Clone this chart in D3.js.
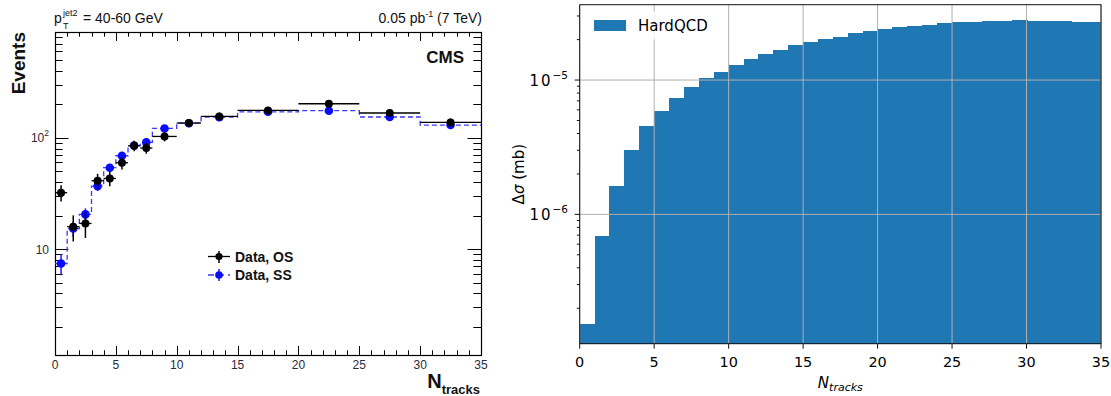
<!DOCTYPE html>
<html><head><meta charset="utf-8">
<script src="https://cdn.jsdelivr.net/npm/d3@7"></script>
<style>body{margin:0;background:#fff}svg{display:block}</style>
</head><body>
<svg id="c" width="1111" height="396"></svg>
<script>
// ---- CMS panel: track-multiplicity bins, event counts and statistical errors ----
const binEdges = [0, 1, 2, 3, 4, 5, 6, 7, 8, 10, 12, 15, 20, 25, 30, 35];
const eventsOS = [32.1, 15.9, 17.0, 41.1, 43.1, 59.6, 84.7, 80.8, 102.7, 135.5, 155.4, 175.8, 202, 166.7, 137.3];
const errorsOS = [5.4, 4.2, 4.4, 6.3, 6.5, 7.7, 9.2, 9.0, 10.0, 11.6, 12.5, 13.3, 14.2, 12.9, 11.7];
const eventsSS = [7.43, 15.3, 20.5, 36.8, 53.8, 68.9, 85, 90.8, 121.2, 135, 153, 171, 174.8, 153.5, 130];
const errorsSS = [1.6, 2.4, 2.7, 3.6, 4.4, 5.0, 5.5, 5.7, 6.6, 7.0, 7.4, 7.8, 7.9, 7.4, 6.8];
const cmsXTickLabels = [0, 5, 10, 15, 20, 25, 30, 35];
const cmsYTickLabels = [10, 100];

// ---- HardQCD panel: unit-width N_tracks bins and cross sections (mb) ----
const trackEdges = [0,1,2,3,4,5,6,7,8,9,10,11,12,13,14,15,16,17,18,19,20,21,22,23,24,25,26,27,28,29,30,31,32,33,34,35];
const deltaSigma = [1.52e-7, 6.89e-7, 1.63e-6, 3.01e-6, 4.55e-6, 5.88e-6, 7.35e-6, 8.87e-6, 1.035e-5, 1.153e-5,
  1.294e-5, 1.433e-5, 1.57e-5, 1.67e-5, 1.82e-5, 1.92e-5, 2.02e-5, 2.09e-5, 2.24e-5, 2.32e-5,
  2.40e-5, 2.48e-5, 2.52e-5, 2.57e-5, 2.66e-5, 2.70e-5, 2.70e-5, 2.75e-5, 2.75e-5, 2.80e-5,
  2.75e-5, 2.75e-5, 2.75e-5, 2.70e-5, 2.70e-5];
const qcdXTickLabels = [0, 5, 10, 15, 20, 25, 30, 35];
const qcdYTickLabels = [1e-6, 1e-5];

const svg = d3.select("#c");
const ROOT_FONT = "'Liberation Sans', Arial, Helvetica, sans-serif";
const MPL_FONT = "'DejaVu Sans', sans-serif";

// =================== left: CMS style ===================
(function () {
  const x0 = 55, x1 = 481, y0 = 32, y1 = 355;
  const x = d3.scaleLinear().domain([0, 35]).range([x0, x1]);
  const y = d3.scaleLog().domain([1.12, 890]).range([y1, y0]);
  const g = svg.append("g");

  // ticks (inside, on all four sides)
  const tk = g.append("g").attr("stroke", "#000").attr("stroke-width", 1);
  for (let v = 0; v <= 35; v++) {
    const major = v % 5 === 0;
    const len = major ? 9 : 4.7;
    const xx = Math.round(x(v)) + 0.5;
    tk.append("line").attr("x1", xx).attr("x2", xx).attr("y1", y1).attr("y2", y1 - len);
    tk.append("line").attr("x1", xx).attr("x2", xx).attr("y1", y0).attr("y2", y0 + len);
  }
  const [lo, hi] = y.domain();
  for (let dec = 1; dec <= 100; dec *= 10) {
    for (let m = 1; m <= 9; m++) {
      const v = m * dec;
      if (v < lo || v > hi) continue;
      const len = m === 1 ? 13.5 : 7.7;
      const yy = Math.round(y(v)) + 0.5;
      tk.append("line").attr("x1", x0).attr("x2", x0 + len).attr("y1", yy).attr("y2", yy);
      tk.append("line").attr("x1", x1).attr("x2", x1 - len).attr("y1", yy).attr("y2", yy);
    }
  }

  g.append("rect").attr("x", x0 + 0.5).attr("y", y0 + 0.5)
    .attr("width", x1 - x0).attr("height", y1 - y0)
    .attr("fill", "none").attr("stroke", "#000").attr("stroke-width", 1.2);

  // tick labels
  g.append("g").selectAll("text").data(cmsXTickLabels).join("text")
    .attr("x", d => x(d)).attr("y", 369).attr("text-anchor", "middle")
    .attr("font-family", ROOT_FONT).attr("font-size", 12).attr("fill", "#2a2a3a")
    .text(d => d);
  const yl = g.append("g").attr("font-family", ROOT_FONT).attr("fill", "#2a2a3a");
  cmsYTickLabels.forEach(v => {
    const t = yl.append("text").attr("x", 49).attr("y", y(v) + 4.5).attr("text-anchor", "end").attr("font-size", 12);
    if (v === 10) t.text("10");
    else {
      t.append("tspan").text("10");
      t.append("tspan").attr("dy", -6).attr("font-size", 8.5).text(Math.round(Math.log10(v)));
    }
  });

  // SS: dashed step histogram
  const stepPts = [];
  eventsSS.forEach((v, i) => { stepPts.push([binEdges[i], v]); stepPts.push([binEdges[i + 1], v]); });
  g.append("path").attr("d", d3.line().x(d => x(d[0])).y(d => y(d[1]))(stepPts))
    .attr("fill", "none").attr("stroke", "#3a3aff").attr("stroke-width", 1.3)
    .attr("stroke-dasharray", "5,3");

  const centers = eventsSS.map((_, i) => (binEdges[i] + binEdges[i + 1]) / 2);

  // SS error bars + markers
  g.append("g").selectAll("line").data(eventsSS).join("line")
    .attr("x1", (d, i) => x(centers[i])).attr("x2", (d, i) => x(centers[i]))
    .attr("y1", (d, i) => y(d + errorsSS[i])).attr("y2", (d, i) => y(d - errorsSS[i]))
    .attr("stroke", "#1a1aff").attr("stroke-width", 1.5);
  g.append("g").selectAll("circle").data(eventsSS).join("circle")
    .attr("cx", (d, i) => x(centers[i])).attr("cy", d => y(d)).attr("r", 4.3)
    .attr("fill", "#0a0aff");

  // OS: horizontal bin bars, vertical errors, markers
  g.append("g").selectAll("line").data(eventsOS).join("line")
    .attr("x1", (d, i) => x(binEdges[i])).attr("x2", (d, i) => x(binEdges[i + 1]))
    .attr("y1", d => y(d)).attr("y2", d => y(d))
    .attr("stroke", "#000").attr("stroke-width", 1.3);
  g.append("g").selectAll("line").data(eventsOS).join("line")
    .attr("x1", (d, i) => x(centers[i])).attr("x2", (d, i) => x(centers[i]))
    .attr("y1", (d, i) => y(d + errorsOS[i])).attr("y2", (d, i) => y(d - errorsOS[i]))
    .attr("stroke", "#000").attr("stroke-width", 1.5);
  g.append("g").selectAll("circle").data(eventsOS).join("circle")
    .attr("cx", (d, i) => x(centers[i])).attr("cy", d => y(d)).attr("r", 4)
    .attr("fill", "#000");

  // legend
  const lg = g.append("g").attr("font-family", ROOT_FONT).attr("font-weight", "bold").attr("font-size", 14);
  lg.append("line").attr("x1", 208).attr("x2", 230).attr("y1", 256.5).attr("y2", 256.5).attr("stroke", "#000").attr("stroke-width", 1.3);
  lg.append("line").attr("x1", 219).attr("x2", 219).attr("y1", 251).attr("y2", 263).attr("stroke", "#000").attr("stroke-width", 1.5);
  lg.append("circle").attr("cx", 219).attr("cy", 256.5).attr("r", 3.6).attr("fill", "#000");
  lg.append("text").attr("x", 235).attr("y", 261.5).attr("fill", "#111").text("Data, OS");
  lg.append("line").attr("x1", 208).attr("x2", 230).attr("y1", 275).attr("y2", 275).attr("stroke", "#3a3aff").attr("stroke-width", 1.3).attr("stroke-dasharray", "6,4");
  lg.append("line").attr("x1", 219).attr("x2", 219).attr("y1", 269).attr("y2", 281).attr("stroke", "#1a1aff").attr("stroke-width", 1.5);
  lg.append("circle").attr("cx", 219).attr("cy", 275).attr("r", 3.8).attr("fill", "#0a0aff");
  lg.append("text").attr("x", 235).attr("y", 280).attr("fill", "#111").text("Data, SS");

  // annotations
  const ann = g.append("g").attr("font-family", ROOT_FONT).attr("fill", "#111");
  ann.append("text").attr("x", 54).attr("y", 23).attr("font-size", 14).text("p");
  ann.append("text").attr("x", 63).attr("y", 16).attr("font-size", 9).text("jet2");
  ann.append("text").attr("x", 63).attr("y", 29).attr("font-size", 9).text("T");
  ann.append("text").attr("x", 83).attr("y", 23).attr("font-size", 14).text("= 40-60 GeV");
  const lumi = ann.append("text").attr("x", 482).attr("y", 23).attr("text-anchor", "end").attr("font-size", 14);
  lumi.append("tspan").text("0.05 pb");
  lumi.append("tspan").attr("dy", -6).attr("font-size", 9).text("-1");
  lumi.append("tspan").attr("dy", 6).text(" (7 TeV)");
  ann.append("text").attr("x", 464).attr("y", 63).attr("text-anchor", "end")
    .attr("font-size", 17).attr("font-weight", "bold").text("CMS");
  ann.append("text").attr("transform", "translate(25,32) rotate(-90)").attr("text-anchor", "end")
    .attr("font-size", 19).attr("font-weight", "bold").text("Events");
  const xt = ann.append("text").attr("x", 480).attr("y", 388).attr("text-anchor", "end").attr("font-weight", "bold");
  xt.append("tspan").attr("font-size", 20).text("N");
  xt.append("tspan").attr("font-size", 13).attr("dy", 6).text("tracks");
})();

// =================== right: matplotlib style ===================
(function () {
  const x0 = 579.7, x1 = 1101, y0 = 4.7, y1 = 343.7;
  const x = d3.scaleLinear().domain([0, 35]).range([x0, x1]);
  const y = d3.scaleLog().domain([1.089e-7, 3.64e-5]).range([y1, y0]);
  const g = svg.append("g");

  // histogram bars (slightly overlapped so no seams show between bins)
  g.append("g").attr("shape-rendering", "crispEdges").selectAll("rect").data(deltaSigma).join("rect")
    .attr("x", (d, i) => x(trackEdges[i]))
    .attr("width", (d, i) => x(trackEdges[i + 1]) - x(trackEdges[i]) + (i < deltaSigma.length - 1 ? 1 : 0))
    .attr("y", d => y(d)).attr("height", d => y1 - y(d))
    .attr("fill", "#1f77b4");

  // grid on top of bars
  const grid = g.append("g").attr("stroke", "#b0b0b0").attr("stroke-width", 1);
  qcdXTickLabels.forEach(v => {
    grid.append("line").attr("x1", x(v)).attr("x2", x(v)).attr("y1", y0).attr("y2", y1);
  });
  qcdYTickLabels.forEach(v => {
    grid.append("line").attr("x1", x0).attr("x2", x1).attr("y1", y(v)).attr("y2", y(v));
  });

  // spines
  g.append("rect").attr("x", x0).attr("y", y0).attr("width", x1 - x0).attr("height", y1 - y0)
    .attr("fill", "none").attr("stroke", "#111").attr("stroke-width", 1);

  // ticks
  const tk = g.append("g").attr("stroke", "#111").attr("stroke-width", 1);
  qcdXTickLabels.forEach(v => {
    tk.append("line").attr("x1", x(v)).attr("x2", x(v)).attr("y1", y1).attr("y2", y1 + 5);
  });
  const [lo, hi] = y.domain();
  for (let e = -7; e <= -5; e++) {
    for (let m = 1; m <= 9; m++) {
      const v = m * Math.pow(10, e);
      if (v < lo || v > hi) continue;
      const len = m === 1 ? 5 : 2.8;
      tk.append("line").attr("x1", x0 - len).attr("x2", x0).attr("y1", y(v)).attr("y2", y(v));
    }
  }

  // tick labels
  g.append("g").selectAll("text").data(qcdXTickLabels).join("text")
    .attr("x", d => x(d)).attr("y", 367).attr("text-anchor", "middle")
    .attr("font-family", MPL_FONT).attr("font-size", 14.4).attr("fill", "#000")
    .text(d => d);
  qcdYTickLabels.forEach(v => {
    const t = g.append("text").attr("x", 568).attr("y", y(v) + 6)
      .attr("text-anchor", "end").attr("font-family", MPL_FONT).attr("font-size", 15).attr("fill", "#000");
    t.append("tspan").attr("letter-spacing", 2).text("10");
    t.append("tspan").attr("dy", -7).attr("font-size", 10.5).text("\u2212" + Math.abs(Math.round(Math.log10(v))));
  });

  // axis labels
  const yt = g.append("text").attr("transform", `translate(524,${(y0 + y1) / 2}) rotate(-90)`)
    .attr("text-anchor", "middle").attr("font-family", MPL_FONT).attr("font-size", 15).attr("fill", "#000");
  yt.append("tspan").text("\u0394");
  yt.append("tspan").attr("font-style", "italic").text("\u03c3");
  yt.append("tspan").text(" (mb)");
  const xt = g.append("text").attr("x", (x0 + x1) / 2).attr("y", 388).attr("text-anchor", "middle")
    .attr("font-family", MPL_FONT).attr("font-style", "italic").attr("fill", "#000");
  xt.append("tspan").attr("font-size", 15).text("N");
  xt.append("tspan").attr("font-size", 11).attr("dy", 3).text("tracks");

  // legend
  const lg = g.append("g");
  lg.append("rect").attr("x", 587).attr("y", 11.5).attr("width", 131).attr("height", 28).attr("rx", 3)
    .attr("fill", "#fff").attr("fill-opacity", 0.8);
  lg.append("rect").attr("x", 594).attr("y", 20).attr("width", 32).attr("height", 11).attr("fill", "#1f77b4");
  lg.append("text").attr("x", 638).attr("y", 31).attr("font-family", MPL_FONT).attr("font-size", 15)
    .attr("fill", "#000").text("HardQCD");
})();
</script>
</body></html>
